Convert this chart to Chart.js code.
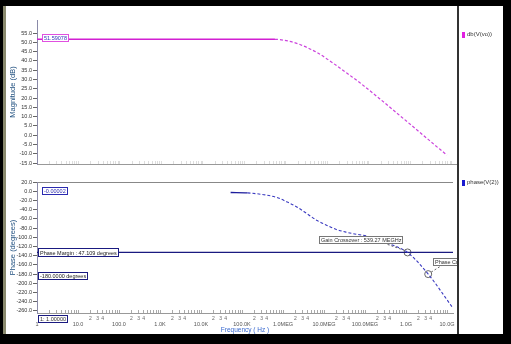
<!DOCTYPE html>
<html><head><meta charset="utf-8">
<script src="https://cdn.jsdelivr.net/npm/chart.js@4.4.1/dist/chart.umd.min.js"></script>
<style>
html,body{margin:0;padding:0;background:#000;width:511px;height:344px;overflow:hidden;}
#strip{position:absolute;left:3px;top:6px;width:3px;height:328px;background:#8a8a6e;}
#panel{position:absolute;left:6px;top:6px;width:497px;height:328px;background:#fff;}
#sep{position:absolute;left:457px;top:6px;width:2px;height:328px;background:#333;}
canvas{position:absolute;}
#cMag{left:6px;top:6px;width:452px;height:162px;}
#cPh{left:6px;top:168px;width:452px;height:166px;}
.leg{position:absolute;font:6px "Liberation Sans",Arial,sans-serif;color:#333;white-space:nowrap;line-height:7px;}
.sw{position:absolute;left:462px;width:3px;height:6px;}
</style></head>
<body>
<div id="strip"></div><div id="panel"></div>
<canvas id="cMag" width="452" height="162"></canvas>
<canvas id="cPh" width="452" height="166"></canvas>
<div id="sep"></div>
<div class="sw" style="top:32px;background:#e020e0"></div><div class="leg" style="left:467px;top:31px">db(V(vo))</div>
<div class="sw" style="top:180px;background:#1a1ad0"></div><div class="leg" style="left:467px;top:179px">phase(V(2))</div>
<script>
// ---- data ----
const magFreqs = [1, 10, 100, 1e3, 1e4, 1e5, 5.43e5, 1.12e6, 2.17e6, 5.59e6, 1.36e7, 3.48e7, 6.07e7, 1.84e8, 5.59e8, 1.69e9, 5.14e9, 7.59e9];
const magDb    = [51.59, 51.59, 51.59, 51.59, 51.59, 51.59, 51.59, 50.7, 48.8, 44.5, 38.8, 32.2, 28.2, 19.5, 10.5, 1.5, -7.6, -10.7];
const phaseFreqs = [5.28e4, 1.36e5, 4.11e5, 7.16e5, 1.25e6, 2.17e6, 3.79e6, 6.59e6, 1.15e7, 2.0e7, 3.48e7, 6.07e7, 1.06e8, 2.43e8, 5.59e8, 1.09e9, 3.48e9, 1.40e10];
const phaseDeg   = [-2.8, -3.7, -8.7, -13.7, -23.2, -34.1, -48.4, -62.9, -73.8, -83.1, -89.0, -93.3, -97.0, -108.5, -119.4, -132.9, -180.0, -254.0];
const magTicks = [55, 50, 45, 40, 35, 30, 25, 20, 15, 10, 5, 0, -5, -10, -15];
const phaseTicks = [20, 0, -20, -40, -60, -80, -100, -120, -140, -160, -180, -200, -220, -240, -260];
const decadeTicks = [1, 10, 100, 1e3, 1e4, 1e5, 1e6, 1e7, 1e8, 1e9, 1e10];
const decadeLabels = ['1', '10.0', '100.0', '1.0K', '10.0K', '100.0K', '1.0MEG', '10.0MEG', '100.0MEG', '1.0G', '10.0G'];
const minorLabelMantissas = [2, 3, 4];
const phaseMargin = 47.109;
const markerFreqs = [1.09e9, 3.48e9];
const markerPhases = [-132.9, -180.0];
const cursorFreqText = '1: 1.00000';
const cursorMag = '51.59078';
const cursorPhase = '-0.00002';
const gainCrossText = 'Gain Crossover : 539.27 MEGHz';
const phaseCrossText = 'Phase Crossover : 3.48 GHz';
const phaseMarginText = 'Phase Margin : 47.109 degrees';
const minus180Text = '-180.0000 degrees';

const F_MIN = 1, F_MAX = 1.4e10;
const FONT = '"Liberation Sans", Arial, sans-serif';

// all 1..9 x decade tick positions
const minorTicks = [];
for (let k = 0; k < 10; k++) for (let m = 1; m <= 9; m++) minorTicks.push(m * Math.pow(10, k));
minorTicks.push(1e10);
function mantissa(v){ return Math.round(v / Math.pow(10, Math.floor(Math.log10(v) + 1e-9))); }

function drawBox(ctx, x, y, text, o) {
  ctx.save();
  ctx.font = (o.size || 5.5) + 'px ' + FONT;
  const w = Math.round(ctx.measureText(text).width) + 4;
  const h = o.h || 8;
  const left = Math.round(o.align === 'right' ? x - w : x);
  const top = Math.round(y - h / 2);
  ctx.fillStyle = '#fff';
  ctx.fillRect(left, top, w, h);
  ctx.strokeStyle = o.border; ctx.lineWidth = 1;
  ctx.strokeRect(left + 0.5, top + 0.5, w - 1, h - 1);
  ctx.fillStyle = o.color; ctx.textBaseline = 'middle'; ctx.textAlign = 'left';
  ctx.fillText(text, left + 2, top + h / 2 + 0.5);
  ctx.restore();
}
function leader(ctx, x1, y1, x2, y2) {
  ctx.save(); ctx.strokeStyle = '#666'; ctx.lineWidth = 1; ctx.setLineDash([2, 2]);
  ctx.beginPath(); ctx.moveTo(x1, y1); ctx.lineTo(x2, y2); ctx.stroke(); ctx.restore();
}

function yAxisFit(s){ s.width = 31; s.paddingTop = 0; s.paddingBottom = 0; }

// ---------------- Magnitude chart ----------------
new Chart(document.getElementById('cMag'), {
  type: 'line',
  data: { datasets: [{
    data: magFreqs.map((f, i) => ({ x: f, y: magDb[i] })),
    borderColor: '#d21fd2', borderWidth: 1.5, pointRadius: 0, cubicInterpolationMode: 'monotone',
    segment: {
      borderDash: c => c.p0.parsed.x >= 5e5 ? [3, 2] : undefined,
      borderColor: c => c.p0.parsed.x >= 5e5 ? '#cc44dd' : undefined,
      borderWidth: c => c.p0.parsed.x >= 5e5 ? 1.2 : undefined
    }
  }]},
  options: {
    responsive: false, animation: false, events: [],
    layout: { padding: { top: 14, left: 0, right: 0, bottom: 0 } },
    plugins: { legend: { display: false }, tooltip: { enabled: false } },
    scales: {
      x: {
        type: 'logarithmic', min: F_MIN, max: F_MAX,
        afterBuildTicks: s => { s.ticks = minorTicks.map(v => ({ value: v })); },
        afterFit: s => { s.height = 4; s.paddingLeft = 0; s.paddingRight = 0; },
        ticks: { display: false, autoSkip: false },
        grid: { drawOnChartArea: false, drawTicks: true, tickLength: -3, tickColor: '#ddd' },
        border: { color: '#999', width: 1 }
      },
      y: {
        min: -15.5, max: 62,
        afterBuildTicks: s => { s.ticks = magTicks.map(v => ({ value: v })); },
        afterFit: yAxisFit,
        ticks: { autoSkip: false, padding: 1, color: '#333', font: { size: 5.5, family: FONT }, callback: v => v.toFixed(1) },
        grid: { drawOnChartArea: false, tickLength: 4, tickColor: '#666' },
        border: { color: '#8a8aa8', width: 1 },
        title: { display: true, text: 'Magnitude (dB)', color: '#1f4f7f', font: { size: 7.5, family: FONT }, padding: { top: 2.5, bottom: 0 } }
      }
    }
  },
  plugins: [{
    id: 'magBoxes',
    afterDatasetsDraw(chart) {
      const { ctx, chartArea, scales } = chart;
      drawBox(ctx, chartArea.left + 5, scales.y.getPixelForValue(parseFloat(cursorMag)) - 1, cursorMag,
        { border: '#e050e0', color: '#3333bb' });
    }
  }]
});

// ---------------- Phase chart ----------------
const pmLevel = -180 + phaseMargin;
new Chart(document.getElementById('cPh'), {
  type: 'line',
  data: { datasets: [
    {
      data: phaseFreqs.map((f, i) => ({ x: f, y: phaseDeg[i] })),
      borderColor: '#1c1c9c', borderWidth: 1.3, pointRadius: 0, cubicInterpolationMode: 'monotone',
      segment: {
        borderDash: c => c.p0.parsed.x >= 1.3e5 ? [3, 2] : undefined,
        borderColor: c => c.p0.parsed.x >= 1.3e5 ? '#3a3ac0' : undefined,
        borderWidth: c => c.p0.parsed.x >= 1.3e5 ? 1.1 : undefined
      }
    },
    {
      data: [{ x: F_MIN, y: pmLevel }, { x: F_MAX, y: pmLevel }],
      borderColor: '#1a1a80', borderWidth: 1.3, pointRadius: 0
    },
    {
      data: markerFreqs.map((f, i) => ({ x: f, y: markerPhases[i] })),
      showLine: false, pointRadius: 3.5, pointStyle: 'circle',
      pointBorderColor: '#666', pointBackgroundColor: 'rgba(0,0,0,0)', pointBorderWidth: 1
    }
  ]},
  options: {
    responsive: false, animation: false, events: [],
    layout: { padding: { top: 14, left: 0, right: 0, bottom: 0 } },
    plugins: { legend: { display: false }, tooltip: { enabled: false } },
    scales: {
      x: {
        type: 'logarithmic', min: F_MIN, max: F_MAX, weight: 0,
        afterBuildTicks: s => { s.ticks = minorTicks.map(v => ({ value: v })); },
        afterFit: s => { s.height = 8; s.paddingLeft = 0; s.paddingRight = 0; },
        ticks: { autoSkip: false, maxRotation: 0, minRotation: 0, padding: 6, color: '#666',
          font: { size: 5, family: FONT },
          callback: v => minorLabelMantissas.includes(mantissa(v)) ? String(mantissa(v)) : '' },
        grid: { drawOnChartArea: false, drawTicks: true, tickLength: -3, tickColor: '#aaa' },
        border: { color: '#999', width: 1 }
      },
      x2: {
        type: 'logarithmic', position: 'bottom', min: F_MIN, max: F_MAX, weight: 1,
        afterBuildTicks: s => { s.ticks = decadeTicks.map(v => ({ value: v })); },
        afterFit: s => { s.height = 13; s.paddingLeft = 0; s.paddingRight = 0; },
        ticks: { autoSkip: false, maxRotation: 0, minRotation: 0, padding: 0, color: '#555',
          font: { size: 5.5, family: FONT },
          callback: v => decadeLabels[decadeTicks.indexOf(v)] ?? '' },
        grid: { display: false, drawTicks: false },
        border: { display: false },
        title: { display: true, text: 'Frequency ( Hz )', color: '#3a6ad0', font: { size: 6.5, family: FONT }, padding: { top: 0, bottom: 0 } }
      },
      y: {
        min: -264.4, max: 20,
        afterBuildTicks: s => { s.ticks = phaseTicks.map(v => ({ value: v })); },
        afterFit: yAxisFit,
        ticks: { autoSkip: false, padding: 1, color: '#333', font: { size: 5.5, family: FONT }, callback: v => v.toFixed(1) },
        grid: { drawOnChartArea: true, color: c => (c.tick && c.tick.value === 20) ? '#888' : 'rgba(0,0,0,0)', tickLength: 4, tickColor: '#666' },
        border: { color: '#8a8aa8', width: 1 },
        title: { display: true, text: 'Phase (degrees)', color: '#1f4f7f', font: { size: 7.5, family: FONT }, padding: { top: 2.5, bottom: 0 } }
      }
    }
  },
  plugins: [{
    id: 'phaseBoxes',
    afterDatasetsDraw(chart) {
      const { ctx, chartArea, scales } = chart;
      const y = scales.y, x = scales.x;
      const navy = '#1a1a80';
      drawBox(ctx, chartArea.left + 5, y.getPixelForValue(parseFloat(cursorPhase)) - 0.5, cursorPhase, { border: '#2a2ab0', color: '#2a2ab0' });
      drawBox(ctx, chartArea.left + 1, y.getPixelForValue(pmLevel), phaseMarginText, { border: navy, color: '#222', h: 9 });
      drawBox(ctx, chartArea.left + 1, y.getPixelForValue(-180) + 2, minus180Text, { border: navy, color: '#222' });
      drawBox(ctx, chartArea.left + 1, chartArea.bottom + 5.5, cursorFreqText, { border: navy, color: '#333' });
      // crossover annotations
      const gx = x.getPixelForValue(markerFreqs[0]), gy = y.getPixelForValue(markerPhases[0]);
      leader(ctx, gx - 3, gy - 2, gx - 20, gy - 8);
      drawBox(ctx, gx - 5, gy - 12, gainCrossText, { border: '#777', color: '#333', align: 'right' });
      const px = x.getPixelForValue(markerFreqs[1]), py = y.getPixelForValue(markerPhases[1]);
      leader(ctx, px + 3, py - 2, px + 14, py - 9);
      drawBox(ctx, px + 5, py - 12, phaseCrossText, { border: '#777', color: '#333' });
    }
  }]
});
</script>
</body></html>
